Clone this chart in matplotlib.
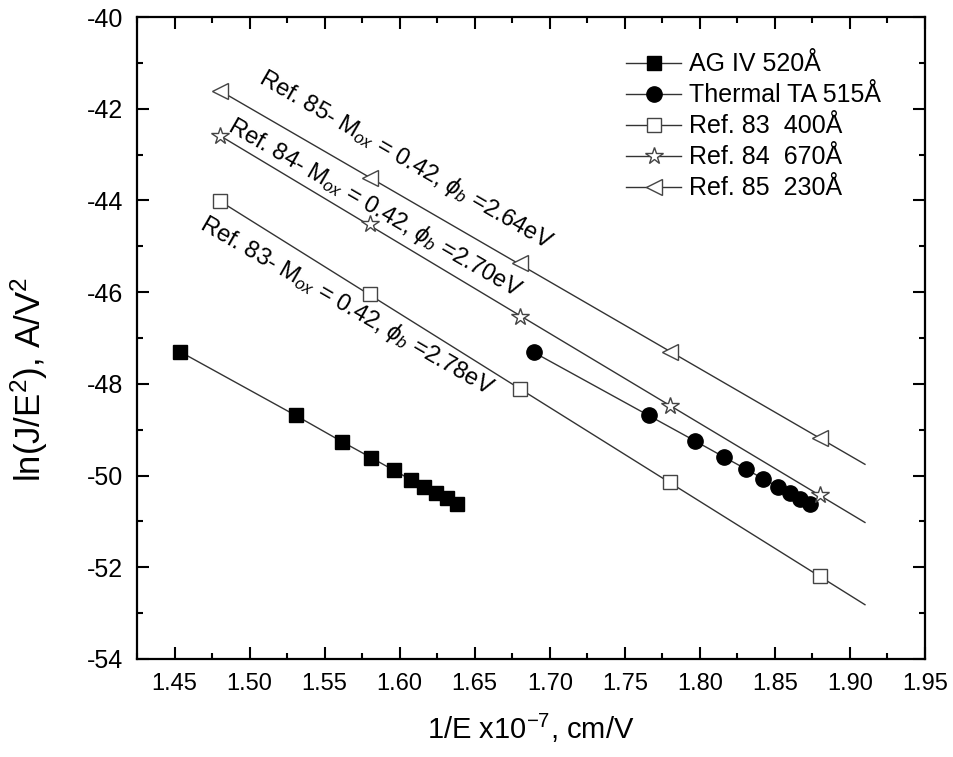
import numpy as np
import matplotlib
matplotlib.use("Agg")
import matplotlib.pyplot as plt
from matplotlib.ticker import MultipleLocator, FormatStrFormatter

plt.rcParams['font.family'] = ['Liberation Sans', 'DejaVu Sans']
plt.rcParams['mathtext.fontset'] = 'custom'
plt.rcParams['mathtext.rm'] = 'Liberation Sans'
plt.rcParams['mathtext.it'] = 'Liberation Sans:italic'
plt.rcParams['mathtext.sf'] = 'Liberation Sans'
plt.rcParams['axes.unicode_minus'] = False

# ---- data ----
ag_x = [1.4537, 1.5308, 1.5615, 1.5810, 1.5959, 1.6075, 1.6165, 1.6243, 1.6315, 1.6381]
ag_y = [-47.30, -48.69, -49.26, -49.61, -49.88, -50.09, -50.25, -50.39, -50.50, -50.63]

ta_x = [1.6892, 1.7659, 1.7965, 1.8163, 1.8308, 1.8421, 1.8519, 1.8599, 1.8670, 1.8737]
ta_y = [-47.31, -48.69, -49.24, -49.60, -49.86, -50.07, -50.24, -50.39, -50.52, -50.63]

ref_x = [1.48, 1.58, 1.68, 1.78, 1.88]
ref83_y = [-44.01, -46.05, -48.12, -50.15, -52.20]
ref84_y = [-42.59, -44.51, -46.54, -48.48, -50.42]
ref85_y = [-41.61, -43.50, -45.37, -47.30, -49.19]
fit_end = 1.91

labels = ['AG IV 520Å', 'Thermal TA 515Å', 'Ref. 83  400Å', 'Ref. 84  670Å', 'Ref. 85  230Å']
annot = [r'Ref. 85- M$_{ox}$ = 0.42, $\phi_b$ =2.64eV',
         r'Ref. 84- M$_{ox}$ = 0.42, $\phi_b$ =2.70eV',
         r'Ref. 83- M$_{ox}$ = 0.42, $\phi_b$ =2.78eV']

fig = plt.figure(figsize=(9.54, 7.57), dpi=100)
ax = fig.add_axes([0.1436, 0.1295, 0.9696 - 0.1436, 0.9775 - 0.1295])

lc = '#333333'
ax.plot(ag_x, ag_y, color=lc, lw=1.0, marker='s', ms=10, mfc='black', mec='black', label=labels[0])
ax.plot(ta_x, ta_y, color=lc, lw=1.0, marker='o', ms=11, mfc='black', mec='black', label=labels[1])

ref_sets = [(ref83_y, 's', 9.5, labels[2]), (ref84_y, '*', 13, labels[3]), (ref85_y, '<', 12, labels[4])]
for ys, m, ms, lab in ref_sets:
    p = np.polyfit(ref_x, ys, 1)
    xx = np.array([ref_x[0], fit_end])
    ax.plot(xx, np.polyval(p, xx), color=lc, lw=1.0, zorder=2)
    ax.plot(ref_x, ys, ls='none', marker=m, ms=ms, mfc='white', mec='#444444', mew=1.0, zorder=3)
    ax.plot([], [], color=lc, lw=1.0, marker=m, ms=ms, mfc='white', mec='#444444', mew=1.0, label=lab)

ax.set_xlim(1.425, 1.95)
ax.set_ylim(-54, -40)
ax.xaxis.set_major_locator(MultipleLocator(0.05))
ax.xaxis.set_minor_locator(MultipleLocator(0.025))
ax.yaxis.set_major_locator(MultipleLocator(2))
ax.yaxis.set_minor_locator(MultipleLocator(1))
ax.xaxis.set_major_formatter(FormatStrFormatter('%.2f'))
ax.yaxis.set_major_formatter(FormatStrFormatter('%d'))
ax.tick_params(which='both', direction='in', top=True, right=True, width=1.5, pad=10)
ax.tick_params(axis='x', labelsize=17)
ax.tick_params(axis='y', labelsize=18)
ax.tick_params(which='major', length=8.5)
ax.tick_params(which='minor', length=4.5)
for s in ax.spines.values():
    s.set_linewidth(1.6)

ax.set_xlabel(r'1/E x10$^{-7}$, cm/V', fontsize=21, labelpad=12)
ax.set_ylabel(r'ln(J/E$^2$), A/V$^2$', fontsize=25)
ax.yaxis.set_label_coords(-0.11, 0.435)

# annotations along the lines
ang = -30
ax.text(1.6037, -43.12, annot[0], rotation=ang, rotation_mode='anchor', ha='center', va='center', fontsize=17)
ax.text(1.5837, -44.16, annot[1], rotation=ang, rotation_mode='anchor', ha='center', va='center', fontsize=17)
ax.text(1.5650, -46.30, annot[2], rotation=ang, rotation_mode='anchor', ha='center', va='center', fontsize=17)

leg = ax.legend(loc='upper left', bbox_to_anchor=(0.621, 0.945), frameon=False, fontsize=18,
                handlelength=2.2, handletextpad=0.3, labelspacing=0.28, borderaxespad=0, borderpad=0)

fig.savefig('out.png', dpi=100)
